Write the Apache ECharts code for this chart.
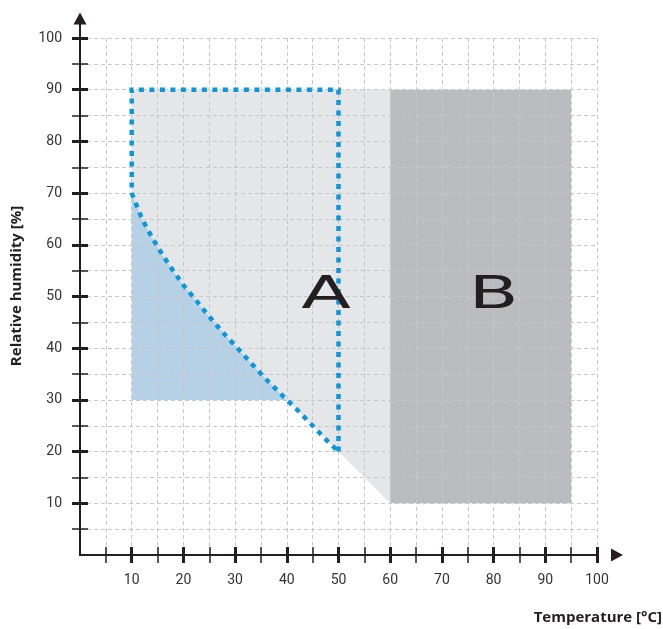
<!DOCTYPE html>
<html><head><meta charset="utf-8">
<script src="https://cdn.jsdelivr.net/npm/echarts@6/dist/echarts.min.js"></script>
<style>html,body{margin:0;padding:0;background:#fff}#c{width:663px;height:629px}</style>
</head><body><div id="c"></div>
<script>
// ---- data ----
const majorTicks = [10, 20, 30, 40, 50, 60, 70, 80, 90, 100];
const minorTicks = [5, 15, 25, 35, 45, 55, 65, 75, 85, 95];
// lower boundary curve of zone A (temperature °C, relative humidity %)
const curveTemp = [10, 12, 14, 16, 18, 20, 22.5, 25, 27.5, 30, 33, 36, 39, 42, 45, 48, 50];
const curveRH   = [70, 65, 61.3, 58, 55, 52.2, 49.2, 46.1, 43.2, 40.5, 37.2, 34, 31, 28.1, 25, 21.9, 20];
// light grey zone corners (before curve)
const greyTemp = [10, 60, 60, 50];
const greyRH   = [90, 90, 10, 20];
// zone B rectangle
const zoneBTemp = [60, 95, 95, 60];
const zoneBRH   = [10, 10, 90, 90];
// light blue zone
const blueFloorRH = 30;
const blueEndTemp = 40;
// dotted outline of zone A (then follows curve)
const dottedTemp = [50, 50, 10];
const dottedRH   = [20, 90, 90];
// zone letters
const letters = ['A', 'B'];
const letterTemp = [47.6, 80];
const letterRH = [50, 50];
// axis end extension (before arrows)
const axisExt = [100, 103];

// ---- build shapes ----
const curvePts = curveTemp.map((t, i) => [t, curveRH[i]]);
const greyPoly = greyTemp.map((t, i) => [t, greyRH[i]]).concat(curvePts.slice().reverse());
const zoneBPoly = zoneBTemp.map((t, i) => [t, zoneBRH[i]]);
const bluePoly = [[curveTemp[0], blueFloorRH]]
  .concat(curvePts.filter(p => p[1] > blueFloorRH))
  .concat([[blueEndTemp, blueFloorRH]]);
const dottedPts = dottedTemp.map((t, i) => [t, dottedRH[i]]).concat(curvePts);

function polySeries(points, color) {
  return {
    type: 'custom', z: -1, silent: true, clip: false, data: [[0, 0]],
    renderItem: (params, api) => ({
      type: 'polygon',
      shape: { points: points.map(p => api.coord(p)) },
      style: { fill: color }
    })
  };
}

const ink = '#231f20';
const base = { type: 'value', min: 0, max: 100, interval: 5 };
const labelStyle = { color: '#333', fontSize: 14, fontFamily: 'Roboto', margin: 18 };

function tickAxis(pos, vals, w) {
  return Object.assign({}, base, {
    position: pos, offset: -8,
    axisLine: { show: false, onZero: false },
    axisLabel: { show: false },
    splitLine: { show: false },
    axisTick: { show: true, customValues: vals, length: 16, lineStyle: { color: ink, width: w } }
  });
}
function mainAxis(pos, offs) {
  return Object.assign({}, base, {
    position: pos,
    axisLine: { show: true, onZero: false, lineStyle: { color: ink, width: 2 },
      symbol: ['none', 'triangle'], symbolSize: [13, 12], symbolOffset: [0, offs] },
    axisTick: { show: false },
    axisLabel: Object.assign({ customValues: majorTicks }, labelStyle),
    splitLine: { show: true, showMinLine: false, lineStyle: { color: '#c8c8ca', width: 1, type: [4, 3] } }
  });
}

const chart = echarts.init(document.getElementById('c'));
chart.setOption({
  animation: false,
  grid: { left: 80, right: 66, top: 38, bottom: 74, containLabel: false },
  xAxis: [mainAxis('bottom', 20), tickAxis('bottom', majorTicks, 3), tickAxis('bottom', minorTicks, 1.5)],
  yAxis: [mainAxis('left', 19.5), tickAxis('left', majorTicks, 3), tickAxis('left', minorTicks, 1.5)],
  graphic: [
    { type: 'text', x: 662, y: 618, style: { text: 'Temperature [°C]', font: 'bold 15px "Open Sans"', fill: ink, align: 'right', verticalAlign: 'middle' } },
    { type: 'text', x: 17, y: 286, rotation: Math.PI / 2, style: { text: 'Relative humidity [%]', font: 'bold 15px "Open Sans"', fill: ink, align: 'center', verticalAlign: 'middle' } }
  ],
  series: [
    polySeries(greyPoly, '#e5e6e8'),
    polySeries(zoneBPoly, '#bbbcbf'),
    polySeries(bluePoly, '#b6d1e5'),
    { type: 'line', data: axisExt.map(v => [v, 0]), clip: false, symbol: 'none', silent: true,
      lineStyle: { color: ink, width: 2 }, z: 1 },
    { type: 'line', data: axisExt.map(v => [0, v]), clip: false, symbol: 'none', silent: true,
      lineStyle: { color: ink, width: 2 }, z: 1 },
    { type: 'line', data: dottedPts, clip: false, symbol: 'none', silent: true, z: 3,
      lineStyle: { color: '#0a97dc', width: 4.5, type: [5, 5.5], cap: 'butt', join: 'miter' } },
    { type: 'custom', silent: true, z: 4,
      data: letters.map((l, i) => [letterTemp[i], letterRH[i]]),
      renderItem: (params, api) => {
        const p = api.coord([api.value(0), api.value(1)]);
        return { type: 'text', x: p[0], y: p[1], scaleX: 1.65,
          style: { text: letters[params.dataIndex], font: '44px "DejaVu Sans"', fill: ink, align: 'center', verticalAlign: 'middle' } };
      } }
  ]
});
</script></body></html>
